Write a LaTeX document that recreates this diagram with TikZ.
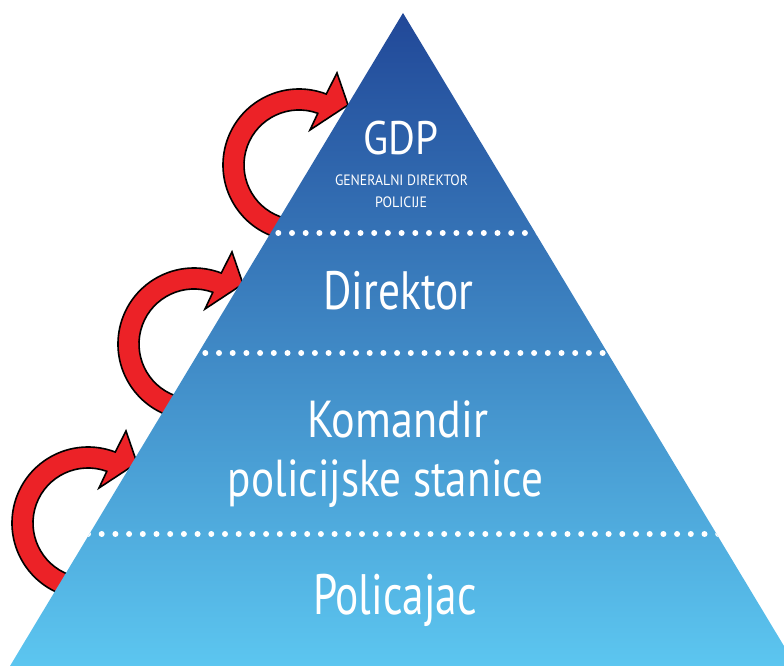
\documentclass[tikz,border=0pt]{standalone}
\usepackage{fontspec}
\setmainfont{PT Sans}
\usepackage{graphicx}
\definecolor{pyrtop}{RGB}{33,72,152}
\definecolor{pyrmid}{RGB}{58,128,194}
\definecolor{pyrbot}{RGB}{92,198,240}
\definecolor{arrowred}{RGB}{236,34,39}
\tikzset{
  redarrow/.style={fill=arrowred, draw=black, line width=1.6pt, line join=miter},
  dotline/.style={white, line width=6pt, line cap=round, dash pattern=on 0pt off 13.7pt},
  lbl/.style={text=white, inner sep=0pt, anchor=base},
}
\newcommand{\fitw}[3]{\resizebox{#1}{\height}{\fontsize{#2}{#2}\selectfont #3}}
\begin{document}
\begin{tikzpicture}[x=1pt,y=1pt]
\useasboundingbox (0,0) rectangle (784,666);
\clip (0,0) rectangle (784,666);
% red circular arrows
\foreach \cx/\cy in {299/501, 194/322, 88/143}{
  \begin{scope}[shift={(\cx,\cy)}]
    \path[redarrow] (-60:76pt) arc[start angle=-60, end angle=-291, radius=76pt]
      -- (38,92) -- (49,60) -- (11,35) -- (70:55pt)
      arc[start angle=70, end angle=300, radius=55pt] -- cycle;
  \end{scope}
}
% pyramid
\coordinate (apex) at (403,653);
\coordinate (bl) at (10,0);
\coordinate (br) at (796,0);
\shade[top color=pyrtop, middle color=pyrmid, bottom color=pyrbot] (apex) -- (br) -- (bl) -- cycle;
\begin{scope}
  \clip (apex) -- (br) -- (bl) -- cycle;
  \coordinate (d1a) at (4.3,433); \coordinate (d1b) at (784,433);
  \coordinate (d2a) at (13.5,313); \coordinate (d2b) at (784,313);
  \coordinate (d3a) at (5.8,132); \coordinate (d3b) at (784,132);
  \draw[dotline] (d1a) -- (d1b);
  \draw[dotline] (d2a) -- (d2b);
  \draw[dotline] (d3a) -- (d3b);
\end{scope}
% labels
\node[lbl] (gdp) at (400.5,511) {\fitw{75pt}{47pt}{GDP}};
\node[lbl] (gdp1) at (401.5,480) {\fitw{133pt}{15pt}{GENERALNI DIREKTOR}};
\node[lbl] (gdp2) at (401,458) {\fitw{52pt}{15pt}{POLICIJE}};
\node[lbl] (dir) at (398.5,356) {\fitw{150pt}{54pt}{Direktor}};
\node[lbl] (kom1) at (397.5,228) {\fitw{181pt}{52pt}{Komandir}};
\node[lbl] (kom2) at (385.5,169) {\fitw{315pt}{52pt}{policijske stanice}};
\node[lbl] (pol) at (395,51) {\fitw{164pt}{57pt}{Policajac}};
\end{tikzpicture}
\end{document}
